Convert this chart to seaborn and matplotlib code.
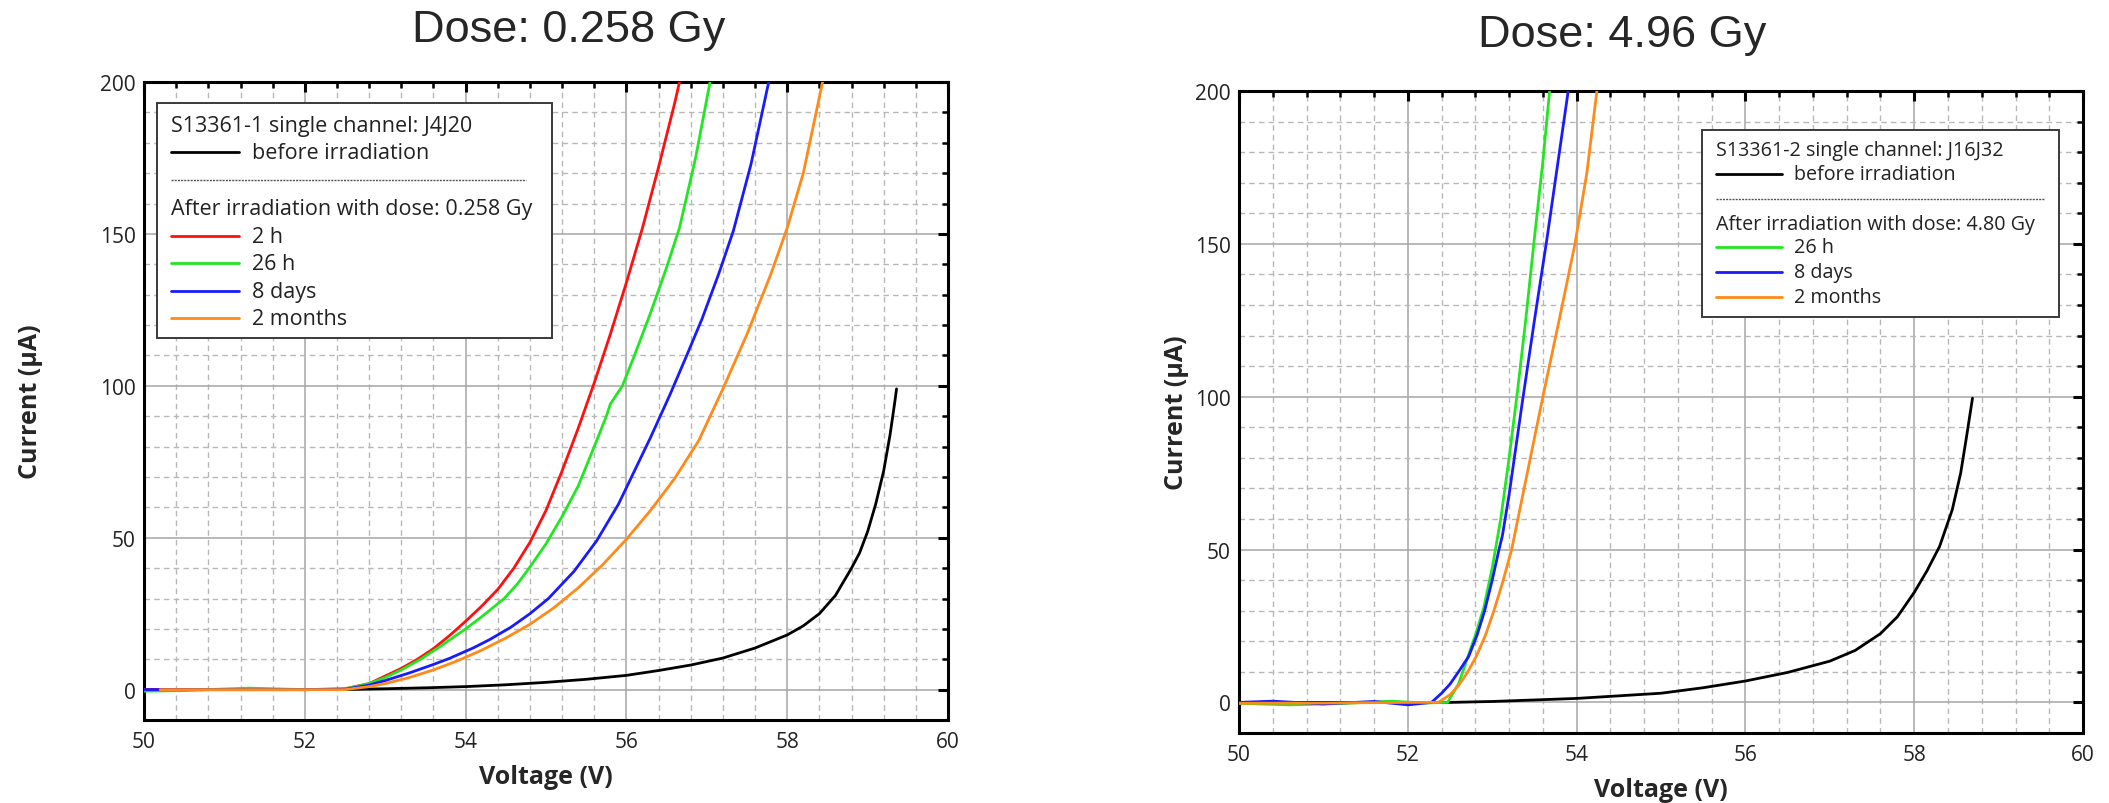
import matplotlib.pyplot as plt
import pandas as pd
import seaborn as sns
from matplotlib.patches import Rectangle
from matplotlib.ticker import MultipleLocator

sns.set_theme(style="white")
plt.rcParams["font.family"] = ["Open Sans", "DejaVu Sans"]

# ── data (voltage in V, current in µA) ──
# left panel: S13361-1, dose 0.258 Gy
L_before_v = [50.0, 52.0, 52.5, 53.0, 53.5, 54.0, 54.5, 55.0, 55.5, 56.0, 56.4, 56.8, 57.2, 57.6,
              58.0, 58.2, 58.4, 58.6, 58.8, 58.9, 59.0, 59.1, 59.2, 59.28, 59.34, 59.36]
L_before_i = [0.0, 0.0, 0.05, 0.3, 0.6, 1.0, 1.6, 2.4, 3.4, 4.7, 6.3, 8.1, 10.4, 13.7,
              18.0, 21.0, 25.0, 31.0, 40.0, 45.0, 52.0, 61.0, 72.0, 84.0, 95.0, 99.0]
L_2h_v = [50.0, 51.0, 52.0, 52.5, 52.8, 53.0, 53.2, 53.4, 53.6, 53.8, 54.0, 54.2, 54.4, 54.6, 54.8,
          55.0, 55.2, 55.4, 55.6, 55.8, 56.0, 56.2, 56.4, 56.6, 56.66]
L_2h_i = [0.0, 0.1, 0.0, 0.3, 2.0, 4.5, 7.0, 10.0, 13.5, 17.8, 22.5, 27.5, 33.0, 40.0, 48.5,
          59.0, 72.0, 86.0, 101.0, 117.0, 134.0, 152.0, 172.0, 193.0, 200.0]
L_26h_v = [50.0, 50.5, 51.3, 52.0, 52.5, 52.8, 53.0, 53.2, 53.44, 53.7, 54.0, 54.2, 54.48, 54.65, 54.79,
           55.0, 55.2, 55.4, 55.6, 55.75, 55.8, 55.95, 56.1, 56.3, 56.5, 56.66, 56.86, 57.04]
L_26h_i = [-0.5, -0.3, 0.5, 0.0, 0.2, 2.0, 4.0, 6.5, 10.0, 14.5, 20.0, 24.0, 30.0, 35.0, 40.0,
           48.0, 57.0, 67.0, 80.0, 90.0, 94.0, 100.0, 110.0, 124.0, 139.0, 152.0, 175.0, 200.0]
L_8d_v = [50.0, 51.0, 52.0, 52.5, 52.8, 53.0, 53.3, 53.6, 53.8, 54.1, 54.3, 54.56, 54.8, 55.03, 55.35,
          55.63, 55.9, 56.1, 56.3, 56.54, 56.75, 56.94, 57.15, 57.33, 57.55, 57.77]
L_8d_i = [0.0, 0.0, 0.0, 0.1, 1.5, 3.0, 5.5, 8.3, 10.3, 13.8, 16.5, 20.5, 25.0, 30.0, 39.0,
          49.0, 61.0, 72.0, 83.0, 97.0, 110.0, 122.0, 137.0, 151.0, 173.0, 200.0]
L_2m_v = [50.2, 51.0, 52.0, 52.5, 52.8, 53.0, 53.3, 53.6, 53.9, 54.2, 54.5, 54.8, 55.1, 55.4, 55.7,
          56.0, 56.3, 56.6, 56.9, 57.2, 57.5, 57.8, 58.0, 58.2, 58.44]
L_2m_i = [0.0, 0.0, 0.0, 0.0, 1.0, 2.0, 4.0, 6.5, 9.5, 13.0, 17.0, 21.5, 27.0, 33.5, 41.0,
          49.5, 59.0, 69.5, 82.0, 99.0, 117.0, 137.0, 152.0, 170.0, 200.0]

# right panel: S13361-2, dose 4.96 Gy
R_before_v = [50.0, 52.5, 53.0, 54.0, 55.0, 55.5, 56.0, 56.5, 57.0, 57.3, 57.6, 57.8, 58.0, 58.15,
              58.3, 58.45, 58.55, 58.62, 58.69]
R_before_i = [0.0, 0.0, 0.3, 1.3, 3.0, 4.8, 7.0, 9.8, 13.5, 17.0, 22.5, 28.0, 36.0, 43.0,
              51.0, 63.0, 75.0, 87.0, 99.5]
R_26h_v = [50.0, 50.6, 51.2, 51.8, 52.2, 52.47, 52.6, 52.7, 52.8, 52.9, 53.0, 53.1, 53.2, 53.3,
           53.4, 53.5, 53.6, 53.68]
R_26h_i = [-0.3, -0.8, -0.4, 0.4, -0.2, 0.0, 6.0, 14.0, 22.0, 31.0, 44.0, 60.0, 80.0, 102.0,
           126.0, 152.0, 177.0, 200.0]
R_8d_v = [50.0, 50.4, 51.0, 51.6, 52.0, 52.28, 52.4, 52.5, 52.6, 52.72, 52.82, 52.91, 53.0, 53.08,
          53.12, 53.2, 53.35, 53.5, 53.65, 53.78, 53.9]
R_8d_i = [0.0, 0.4, -0.5, 0.3, -0.8, 0.0, 3.0, 6.0, 10.0, 15.0, 22.0, 30.0, 40.0, 50.0,
          54.5, 68.0, 97.0, 125.0, 152.0, 177.0, 200.0]
R_2m_v = [50.0, 51.0, 52.0, 52.36, 52.5, 52.6, 52.7, 52.81, 52.92, 53.02, 53.12, 53.23, 53.4, 53.6,
          53.8, 53.98, 54.12, 54.24]
R_2m_i = [-0.3, -0.2, 0.0, 0.0, 2.5, 5.5, 9.5, 15.0, 22.0, 30.0, 39.0, 50.0, 73.0, 100.0,
          126.0, 150.0, 173.0, 200.0]

COLORS = {"before irradiation": "black", "2 h": "#ff1010", "26 h": "#22e622",
          "8 days": "#1a1aff", "2 months": "#ff8a1a"}

panels = [
    dict(title="Dose: 0.258 Gy", title_xy=(0.2696, 0.948),
         header="S13361-1 single channel: J4J20", dose_text="After irradiation with dose: 0.258 Gy",
         series=[("before irradiation", L_before_v, L_before_i), ("2 h", L_2h_v, L_2h_i),
                 ("26 h", L_26h_v, L_26h_i), ("8 days", L_8d_v, L_8d_i), ("2 months", L_2m_v, L_2m_i)],
         rect=[0.0683, 0.1032, 0.3812, 0.7935], ylab_x=-0.141, fs=15.5,
         box=(0.0162, 0.5987, 0.5075, 0.9671), rows=[0.9326, 0.8903, 0.8464, 0.8025, 0.7586, 0.7163, 0.6724, 0.6301],
         hx=(0.0336, 0.1182), tx=0.1343, sep_end=0.4751),
    dict(title="Dose: 4.96 Gy", title_xy=(0.769, 0.942),
         header="S13361-2 single channel: J16J32", dose_text="After irradiation with dose: 4.80 Gy",
         series=[("before irradiation", R_before_v, R_before_i), ("26 h", R_26h_v, R_26h_i),
                 ("8 days", R_8d_v, R_8d_i), ("2 months", R_2m_v, R_2m_i)],
         rect=[0.5875, 0.0871, 0.4002, 0.7985], ylab_x=-0.0746, fs=14.2,
         box=(0.5482, 0.6480, 0.9716, 0.9397), rows=[0.9086, 0.8707, 0.8318, 0.7928, 0.7570, 0.7181, 0.6791],
         hx=(0.5648, 0.6434), tx=0.6576, sep_end=0.9538),
]

fig = plt.figure(figsize=(21.09, 8.04), dpi=100)

for p in panels:
    ax = fig.add_axes(p["rect"])
    df = pd.concat([pd.DataFrame({"Voltage": v, "Current": i, "curve": lab}) for lab, v, i in p["series"]])
    sns.lineplot(data=df, x="Voltage", y="Current", hue="curve", palette=COLORS,
                 estimator=None, sort=False, lw=2.0, legend=False, ax=ax, zorder=3)

    ax.set_xlim(50, 60)
    ax.set_ylim(-10, 200)
    ax.xaxis.set_major_locator(MultipleLocator(2))
    ax.xaxis.set_minor_locator(MultipleLocator(0.4))
    ax.yaxis.set_major_locator(MultipleLocator(50))
    ax.yaxis.set_minor_locator(MultipleLocator(10))
    ax.grid(which="major", color="#a6a6a6", lw=1.1, ls="-", zorder=0)
    ax.grid(which="minor", color="#b8b8b8", lw=1.0, ls=(0, (4, 3)), zorder=0)
    ax.tick_params(which="both", direction="in", top=True, right=True, color="black",
                   labelsize=15, labelcolor="#222222")
    ax.tick_params(axis="x", pad=8)
    ax.tick_params(axis="y", pad=6)
    ax.tick_params(which="major", length=7.5, width=2.2)
    ax.tick_params(which="minor", length=4.5, width=1.8)
    for s in ax.spines.values():
        s.set_linewidth(2.2)
        s.set_color("black")

    ax.set_xlabel("Voltage (V)", fontsize=18, fontweight="bold", va="center")
    ax.set_ylabel("Current (μA)", fontsize=18, fontweight="bold", va="center")
    ax.xaxis.set_label_coords(0.5, -0.088)
    ax.yaxis.set_label_coords(p["ylab_x"], 0.5)

    fig.text(p["title_xy"][0], p["title_xy"][1], p["title"], ha="center", va="baseline",
             fontsize=32.5, family=["Liberation Sans", "DejaVu Sans"])

    # hand-built legend box (gnuplot style, with header and separator)
    x0, y0, x1, y1 = p["box"]
    ax.add_patch(Rectangle((x0, y0), x1 - x0, y1 - y0, transform=ax.transAxes,
                           facecolor="white", edgecolor="#3a3a3a", lw=1.4, zorder=5))
    rows = p["rows"]
    kw = dict(transform=ax.transAxes, va="center", fontsize=p["fs"], color="#222222", zorder=6)
    ax.text(p["hx"][0], rows[0], p["header"], ha="left", **kw)
    ax.plot(p["hx"], [rows[1]] * 2, color="black", lw=2.0, transform=ax.transAxes, zorder=6)
    ax.text(p["tx"], rows[1], "before irradiation", ha="left", **kw)
    ax.plot([p["hx"][0], p["sep_end"]], [rows[2]] * 2, color="#555555", lw=1.0, ls=(0, (1.5, 0.8)),
            transform=ax.transAxes, zorder=6)
    ax.text(p["hx"][0], rows[3], p["dose_text"], ha="left", **kw)
    after = [lab for lab, _, _ in p["series"] if lab != "before irradiation"]
    for r, lab in zip(rows[4:], after):
        ax.plot(p["hx"], [r] * 2, color=COLORS[lab], lw=2.0, transform=ax.transAxes, zorder=6)
        ax.text(p["tx"], r, lab, ha="left", **kw)

fig.savefig("out.png", dpi=100)
